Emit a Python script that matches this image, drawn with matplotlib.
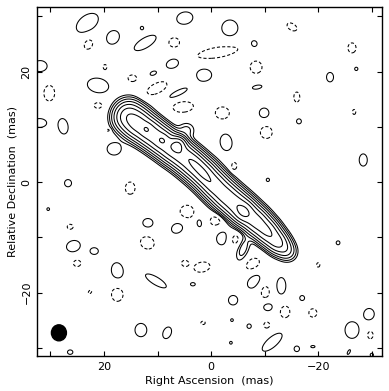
import numpy as np
import matplotlib
matplotlib.use("Agg")
import matplotlib.pyplot as plt
from matplotlib.patches import Ellipse

# --- jet ridge components (mas): RA, Dec, peak, sigma along jet, sigma across jet
ridge_ra = [15.6, 13.8, 11.6, 9.5, 7.4, 5.3, 3.3, 1.3, -0.6, -2.5, -4.4, -6.3, -8.4, -10.4, -12.3, -14.0]
ridge_dec = [12.0, 10.6, 9.1, 7.6, 6.1, 4.7, 3.1, 1.4, -0.5, -2.3, -3.9, -5.4, -7.1, -8.9, -10.8, -12.3]
ridge_amp = [45, 75, 76, 76, 76, 76, 76, 76, 76, 76, 76, 76, 74, 62, 38, 9]
ridge_sa = [1.3, 1.4, 1.4, 1.4, 1.4, 1.4, 1.4, 1.4, 1.4, 1.4, 1.4, 1.4, 1.4, 1.4, 1.3, 1.1]
ridge_sb = [1.4, 1.35, 1.28, 1.25, 1.25, 1.25, 1.25, 1.25, 1.25, 1.25, 1.25, 1.22, 1.18, 1.12, 1.05, 0.95]
ridge_ang = [36, 36, 36, 36, 38, 40, 40, 40, 40, 40, 40, 40, 42, 43, 43, 43]

# bright knots on the ridge: RA, Dec, peak, sigma along, sigma across, angle
knot_ra = [12.1, 9.1, 6.2, 2.0, -6.0]
knot_dec = [9.6, 7.6, 6.7, 2.2, -5.4]
knot_amp = [36, 36, 95, 55, 60]
knot_sa = [0.6, 0.6, 0.8, 2.5, 1.0]
knot_sb = [0.6, 0.6, 0.8, 0.8, 0.9]
knot_ang = [38, 38, 38, 49, 45]

# small extensions on the jet edges: RA, Dec, peak, sigma_a, sigma_b, angle
ext_ra = [4.6, -6.0]
ext_dec = [9.4, -12.0]
ext_amp = [2.5, 3.0]
ext_sa = [1.0, 1.6]
ext_sb = [0.9, 0.7]
ext_ang = [0, -70]

# positive noise islands: RA, Dec, semi-axes of the lowest contour (mas), angle
pos_ra = [23.1, 18.3, 12.9, 12.3, 4.9, 31.9, 10.8, 7.1, 21.1, 6.2, 32.0, 27.6, 18.1, 26.7,
          -3.5, -8.0, 1.3, -22.2, -27.1, -8.6, -9.9, -16.4, -2.8, -28.4, -10.6, 30.4, 11.8,
          6.3, 25.7, 21.8, 17.5, 10.3, 3.4, 13.1, 8.2, 26.3, 2.2, -2.1, -23.7, -8.0, -13.1,
          -4.1, -17.0, -10.6, -29.5, -3.9, -7.1, -26.3, -11.4, -3.7, -16.0, -25.7, -19.0, -30.0]
pos_dec = [28.8, 26.2, 27.9, 25.2, 29.7, 21.0, 19.7, 21.5, 17.5, 16.1, 10.7, 10.1, 6.0, -0.2,
           27.9, 25.0, 19.4, 19.0, 20.5, 17.2, 12.5, 11.0, 7.2, 4.0, 0.4, -4.9, -7.4,
           -8.3, -11.6, -12.5, -16.1, -17.9, -18.5, -26.8, -27.3, -30.8, -7.4, -10.1, -11.0, -17.9, -18.8,
           -21.4, -21.0, -22.6, -23.9, -25.0, -26.1, -26.8, -29.0, -29.1, -30.2, -30.8, -29.8, -31.3]
pos_a = [2.3, 1.3, 0.3, 2.3, 1.5, 1.0, 0.6, 1.4, 2.0, 1.9, 0.8, 1.4, 1.3, 0.65,
         1.5, 0.85, 1.4, 0.85, 0.3, 0.9, 0.9, 0.45, 1.5, 1.1, 0.3, 0.25, 0.95,
         1.15, 1.3, 0.75, 1.5, 2.2, 0.45, 1.2, 1.1, 0.5, 0.75, 1.3, 0.35, 1.5, 1.5,
         0.85, 0.45, 0.85, 1.0, 0.25, 0.4, 1.5, 2.3, 0.25, 0.5, 0.45, 0.4, 0.3]
pos_b = [1.4, 1.1, 0.3, 0.9, 1.1, 1.3, 0.35, 0.9, 1.3, 0.5, 1.3, 0.9, 1.1, 0.65,
         1.45, 0.8, 1.1, 0.65, 0.3, 0.35, 0.9, 0.45, 1.1, 0.75, 0.3, 0.25, 0.8,
         0.9, 1.0, 0.6, 1.1, 0.7, 0.3, 1.1, 0.75, 0.4, 0.5, 1.1, 0.35, 1.0, 0.85,
         0.85, 0.45, 0.7, 0.95, 0.25, 0.4, 1.3, 0.9, 0.25, 0.5, 0.2, 0.2, 0.3]
pos_ang = [-35, -50, 0, -30, -10, 90, -20, -20, 10, -25, 90, 80, 0, 0,
           0, 0, 0, 90, 0, -10, 0, 0, 80, 90, 0, 0, 0,
           -30, -15, 0, 80, 30, 0, 90, -65, 0, 80, 100, 0, -50, 90,
           0, 0, 0, 90, 0, 0, 90, -40, 0, 90, -60, 0, 0]

# negative noise islands (dashed)
neg_ra = [22.9, 6.9, 19.8, 14.7, 30.2, 10.1, 21.1, 5.2, 19.2, 15.1, -15.1, -1.3, -26.3, -8.4,
          -16.0, -2.1, -26.7, -10.3, -4.3, 26.3, 4.5, 11.9, 25.0, 4.9, 1.7, 22.6, 17.5, -1.1,
          -4.5, -7.8, -20.0, -10.1, -13.8, -19.0, 1.5, -10.4, -29.7]
neg_dec = [25.0, 25.3, 20.8, 18.8, 16.1, 17.0, 13.9, 13.6, 9.4, -1.1, 28.1, 23.5, 24.3, 20.8,
           15.4, 12.5, 12.7, 9.0, 2.9, -8.1, -5.4, -11.0, -14.7, -14.7, -15.4, -19.9, -20.3, -6.9,
           -10.4, -14.9, -15.0, -19.9, -23.5, -23.7, -25.5, -25.9, -27.7]
neg_a = [1.0, 1.0, 0.5, 0.8, 1.4, 2.0, 0.75, 1.9, 0.35, 1.1, 1.0, 3.9, 0.9, 1.1,
         0.9, 1.3, 0.45, 1.1, 0.7, 0.55, 1.3, 1.3, 0.7, 0.6, 1.5, 0.35, 1.3, 1.3,
         1.0, 1.4, 0.4, 1.1, 1.1, 0.75, 0.4, 0.55, 0.7]
neg_b = [0.8, 0.85, 0.35, 0.6, 1.0, 0.9, 0.55, 0.95, 0.25, 0.9, 0.6, 0.95, 0.75, 1.1,
         0.55, 1.1, 0.3, 1.1, 0.5, 0.45, 1.2, 1.1, 0.6, 0.5, 0.9, 0.25, 1.1, 1.1,
         0.9, 1.0, 0.3, 0.8, 0.9, 0.75, 0.3, 0.55, 0.55]
neg_ang = [-60, 0, 90, 0, 90, -25, 0, -5, 0, 90, 30, -10, 90, 0,
           90, 0, 90, 0, 90, 0, 0, 20, 0, 0, -10, -45, 90, -20,
           90, -30, 90, 90, 90, 0, 0, 0, 90]

# restoring beam (mas)
beam_ra, beam_dec, beam_w, beam_h = 28.4, -27.3, 2.8, 2.9

levels = [1, 2, 4, 8, 16, 32, 64, 128, 256]
island_peak = 1.6


def comp(ra, dec, x0, y0, amp, sa, sb, ang):
    # elliptical gaussian component
    th = np.radians(ang)
    dx, dy = ra - x0, dec - y0
    u = dx * np.cos(th) + dy * np.sin(th)
    v = -dx * np.sin(th) + dy * np.cos(th)
    return amp * np.exp(-0.5 * (u ** 2 / sa ** 2 + v ** 2 / sb ** 2))


ra = np.linspace(-34, 34, 700)
dec = np.linspace(-34, 34, 700)
RA, DEC = np.meshgrid(ra, dec)

img = np.zeros_like(RA)
for i in range(len(ridge_ra)):
    img += comp(RA, DEC, ridge_ra[i], ridge_dec[i], ridge_amp[i], ridge_sa[i], ridge_sb[i], ridge_ang[i])
for i in range(len(knot_ra)):
    img += comp(RA, DEC, knot_ra[i], knot_dec[i], knot_amp[i], knot_sa[i], knot_sb[i], knot_ang[i])
for i in range(len(ext_ra)):
    img += comp(RA, DEC, ext_ra[i], ext_dec[i], ext_amp[i], ext_sa[i], ext_sb[i], ext_ang[i])

k = np.sqrt(2 * np.log(island_peak))
for i in range(len(pos_ra)):
    img += comp(RA, DEC, pos_ra[i], pos_dec[i], island_peak, pos_a[i] / k, pos_b[i] / k, pos_ang[i])
for i in range(len(neg_ra)):
    img -= comp(RA, DEC, neg_ra[i], neg_dec[i], island_peak, neg_a[i] / k, neg_b[i] / k, neg_ang[i])

fig = plt.figure(figsize=(3.89, 3.91), dpi=100)
ax = fig.add_axes([0.095, 0.0895, 0.887, 0.8925])

ax.contour(RA, DEC, img, levels=levels, colors='black', linewidths=0.75, linestyles='solid')
ax.contour(RA, DEC, img, levels=[-1], colors='black', linewidths=0.75,
           linestyles=[(0, (3, 2))])

ax.add_patch(Ellipse((beam_ra, beam_dec), beam_w, beam_h, color='black'))

ax.set_xlim(32.5, -31.9)
ax.set_ylim(-31.5, 31.7)

ticks = [-30, -20, -10, 0, 10, 20, 30]
ax.set_xticks(ticks)
ax.set_yticks(ticks)
ax.set_xticklabels(['', '\u221220', '', '0', '', '20', ''])
ax.set_yticklabels(['', '\u221220', '', '0', '', '20', ''], rotation=90, va='center')
ax.tick_params(direction='in', top=True, right=True, length=3.5, width=0.8, labelsize=8, pad=4)
for s in ax.spines.values():
    s.set_linewidth(1.0)

ax.set_xlabel('Right Ascension  (mas)', fontsize=8, labelpad=3)
ax.set_ylabel('Relative Declination  (mas)', fontsize=8, labelpad=3)

fig.savefig('out.png', dpi=100)
